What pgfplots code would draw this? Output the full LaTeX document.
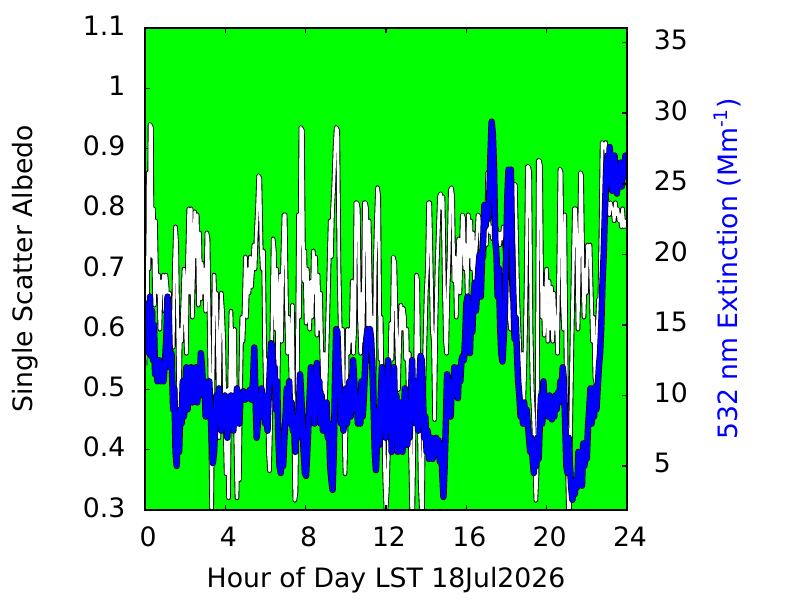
\documentclass[border=0pt]{standalone}
\usepackage{fontspec}
\setmainfont{DejaVu Sans}
\usepackage{pgfplots}
\usepackage{pgfplotstable}
\pgfplotsset{compat=1.18}
\definecolor{bggreen}{RGB}{0,255,0}
\definecolor{extblue}{RGB}{0,0,255}
\pgfplotstableread{
h a
0.00 0.54
0.04 0.62
0.08 0.72
0.12 0.60
0.16 0.86
0.20 0.70
0.25 0.94
0.32 0.935
0.36 0.72
0.42 0.80
0.47 0.64
0.52 0.78
0.57 0.70
0.62 0.66
0.68 0.69
0.74 0.60
0.80 0.68
0.86 0.66
0.92 0.69
0.98 0.63
1.04 0.69
1.10 0.67
1.16 0.60
1.22 0.66
1.28 0.55
1.34 0.63
1.40 0.57
1.46 0.70
1.52 0.77
1.58 0.74
1.64 0.58
1.70 0.44
1.76 0.60
1.82 0.58
1.88 0.64
1.94 0.70
2.00 0.62
2.06 0.56
2.12 0.72
2.18 0.80
2.24 0.66
2.30 0.80
2.36 0.62
2.42 0.70
2.48 0.795
2.54 0.72
2.60 0.79
2.66 0.64
2.72 0.76
2.78 0.65
2.84 0.71
2.90 0.66
2.96 0.70
3.02 0.63
3.08 0.76
3.14 0.75
3.20 0.60
3.26 0.45
3.32 0.30
3.38 0.50
3.44 0.69
3.50 0.63
3.56 0.66
3.62 0.55
3.68 0.42
3.74 0.58
3.80 0.66
3.86 0.63
3.92 0.58
3.98 0.45
4.04 0.36
4.10 0.50
4.16 0.32
4.22 0.52
4.28 0.63
4.34 0.55
4.40 0.45
4.46 0.60
4.52 0.42
4.58 0.32
4.64 0.44
4.70 0.35
4.76 0.50
4.82 0.62
4.88 0.58
4.94 0.64
5.00 0.72
5.06 0.62
5.12 0.70
5.18 0.66
5.24 0.72
5.30 0.67
5.36 0.70
5.42 0.74
5.48 0.70
5.54 0.76
5.60 0.80
5.66 0.855
5.72 0.85
5.78 0.74
5.84 0.70
5.90 0.73
5.96 0.56
6.02 0.47
6.08 0.55
6.14 0.40
6.20 0.365
6.26 0.45
6.32 0.60
6.38 0.75
6.44 0.73
6.50 0.60
6.56 0.70
6.62 0.50
6.68 0.62
6.74 0.69
6.80 0.58
6.86 0.72
6.92 0.79
6.98 0.79
7.04 0.65
7.10 0.56
7.16 0.62
7.22 0.58
7.28 0.50
7.34 0.64
7.40 0.45
7.46 0.316
7.52 0.33
7.58 0.50
7.64 0.79
7.70 0.62
7.76 0.935
7.84 0.93
7.90 0.68
7.96 0.73
8.02 0.61
8.08 0.70
8.14 0.64
8.20 0.60
8.26 0.68
8.32 0.62
8.38 0.73
8.44 0.66
8.50 0.72
8.56 0.59
8.62 0.69
8.68 0.60
8.74 0.66
8.80 0.56
8.86 0.50
8.92 0.56
8.98 0.47
9.04 0.54
9.10 0.62
9.16 0.70
9.22 0.78
9.28 0.72
9.34 0.80
9.40 0.84
9.46 0.90
9.52 0.935
9.60 0.93
9.66 0.70
9.72 0.60
9.78 0.52
9.84 0.60
9.90 0.45
9.96 0.36
10.02 0.45
10.08 0.60
10.14 0.56
10.20 0.60
10.26 0.58
10.32 0.68
10.38 0.56
10.44 0.60
10.50 0.81
10.56 0.81
10.62 0.80
10.68 0.62
10.74 0.56
10.80 0.66
10.86 0.58
10.92 0.81
10.98 0.81
11.04 0.80
11.10 0.60
11.16 0.78
11.22 0.66
11.28 0.58
11.34 0.62
11.40 0.48
11.46 0.70
11.52 0.78
11.58 0.835
11.64 0.82
11.70 0.55
11.76 0.62
11.82 0.42
11.88 0.46
11.94 0.35
12.00 0.30
12.06 0.33
12.12 0.40
12.18 0.52
12.24 0.61
12.30 0.55
12.36 0.72
12.44 0.71
12.50 0.62
12.56 0.55
12.62 0.50
12.68 0.58
12.74 0.64
12.80 0.60
12.86 0.635
12.92 0.62
12.98 0.55
13.04 0.60
13.10 0.50
13.16 0.56
13.22 0.40
13.28 0.30
13.34 0.30
13.40 0.45
13.46 0.50
13.52 0.69
13.58 0.68
13.64 0.50
13.70 0.35
13.76 0.30
13.82 0.30
13.88 0.50
13.94 0.58
14.00 0.66
14.06 0.70
14.12 0.81
14.18 0.81
14.24 0.72
14.30 0.60
14.36 0.58
14.42 0.45
14.48 0.60
14.54 0.70
14.60 0.76
14.66 0.82
14.72 0.825
14.78 0.80
14.84 0.82
14.90 0.68
14.96 0.58
15.02 0.56
15.08 0.66
15.14 0.72
15.20 0.83
15.26 0.835
15.32 0.82
15.38 0.68
15.44 0.72
15.50 0.62
15.56 0.70
15.62 0.75
15.68 0.66
15.74 0.72
15.80 0.79
15.86 0.785
15.92 0.70
15.98 0.74
16.04 0.66
16.10 0.79
16.16 0.72
16.22 0.78
16.28 0.70
16.34 0.76
16.40 0.68
16.46 0.72
16.52 0.75
16.58 0.79
16.64 0.785
16.70 0.76
16.76 0.70
16.82 0.77
16.88 0.72
16.94 0.78
17.00 0.74
17.06 0.86
17.12 0.78
17.18 0.76
17.24 0.77
17.30 0.75
17.36 0.77
17.42 0.76
17.48 0.77
17.54 0.75
17.60 0.76
17.66 0.74
17.72 0.76
17.78 0.75
17.84 0.77
17.90 0.74
17.96 0.72
18.02 0.70
18.08 0.65
18.14 0.62
18.20 0.60
18.26 0.70
18.32 0.80
18.38 0.84
18.44 0.84
18.50 0.75
18.56 0.65
18.62 0.60
18.68 0.55
18.74 0.50
18.80 0.56
18.86 0.48
18.92 0.55
18.98 0.68
19.04 0.87
19.10 0.87
19.16 0.86
19.22 0.60
19.28 0.50
19.34 0.46
19.40 0.40
19.46 0.316
19.52 0.36
19.58 0.88
19.64 0.88
19.70 0.87
19.76 0.62
19.82 0.67
19.88 0.59
19.94 0.65
20.00 0.70
20.06 0.58
20.12 0.68
20.18 0.60
20.24 0.67
20.30 0.58
20.36 0.66
20.42 0.60
20.48 0.62
20.54 0.56
20.60 0.70
20.66 0.866
20.72 0.86
20.78 0.65
20.84 0.60
20.90 0.79
20.96 0.56
21.02 0.40
21.08 0.30
21.14 0.30
21.20 0.45
21.26 0.58
21.32 0.70
21.38 0.80
21.44 0.80
21.50 0.75
21.56 0.60
21.62 0.70
21.68 0.86
21.74 0.855
21.80 0.70
21.86 0.62
21.92 0.70
21.98 0.66
22.04 0.74
22.10 0.72
22.16 0.74
22.22 0.66
22.28 0.58
22.34 0.62
22.40 0.52
22.46 0.51
22.52 0.60
22.58 0.65
22.64 0.64
22.70 0.75
22.76 0.91
22.82 0.905
22.88 0.90
22.94 0.91
23.00 0.80
23.06 0.81
23.12 0.79
23.18 0.81
23.24 0.80
23.30 0.80
23.36 0.78
23.42 0.81
23.48 0.79
23.54 0.80
23.60 0.78
23.66 0.79
23.72 0.77
23.78 0.80
23.84 0.77
23.90 0.78
23.96 0.77
24.00 0.77
}\albedo
\pgfplotstableread{
h e
0.00 13
0.05 16.5
0.10 14
0.15 16
0.20 13
0.25 17
0.30 12.8
0.35 16
0.40 12.5
0.45 15
0.50 11.5
0.55 12.5
0.62 11
0.70 12.5
0.78 11
0.85 12
0.92 11
1.00 12.5
1.06 14
1.12 17
1.18 16
1.25 12
1.32 13
1.40 9
1.46 10.5
1.52 6
1.58 5
1.64 8
1.70 6
1.76 9
1.82 8
1.88 11
1.94 8.5
2.00 10
2.06 12
2.12 9
2.18 11
2.24 10
2.30 12
2.36 9.5
2.42 11
2.48 10
2.54 12
2.60 9.5
2.66 11.5
2.72 10
2.78 13
2.84 12
2.90 10
2.96 11
3.02 8.5
3.08 10
3.14 9
3.20 11
3.26 9
3.32 7
3.38 5.2
3.44 6
3.50 8
3.56 10
3.62 8
3.68 10.5
3.74 8.5
3.80 7.5
3.86 9.5
3.92 8.5
3.98 10
4.04 9
4.10 7
4.16 9.5
4.22 8
4.28 10
4.34 9
4.40 7.5
4.46 10
4.52 8
4.58 10.5
4.64 9
4.70 8
4.76 10
4.82 9.8
4.90 10.3
4.98 9.7
5.06 10.2
5.14 9.8
5.22 10.4
5.30 9.7
5.38 11
5.44 13.4
5.50 10
5.56 7
5.62 8
5.68 10
5.74 8.5
5.80 10.5
5.86 9
5.92 10
5.98 8
6.04 9.5
6.10 7.5
6.16 10
6.22 12
6.28 13.7
6.34 13.5
6.40 11
6.46 12
6.52 9
6.58 11
6.64 7
6.70 5
6.76 4.5
6.82 6
6.88 5
6.94 7
7.00 8.5
7.06 10.5
7.12 9
7.18 11
7.24 8
7.30 9.5
7.36 7.5
7.42 8.5
7.48 6
7.54 8
7.60 7
7.66 9
7.72 11.5
7.78 10
7.84 8
7.90 6
7.96 4.5
8.02 4.3
8.08 6
8.14 8
8.20 10
8.26 12
8.32 9
8.38 11
8.44 8
8.50 10.5
8.56 12.3
8.62 9
8.68 11
8.74 8
8.80 10
8.86 7.5
8.92 9
8.98 8
9.04 9.5
9.10 7
9.16 8
9.22 5
9.28 4
9.34 3.3
9.40 6
9.46 11
9.52 14.7
9.58 14.5
9.64 12
9.70 10.5
9.76 8
9.82 10
9.88 7.5
9.94 9
10.00 10.5
10.06 8
10.12 9.5
10.18 11
10.24 8.5
10.30 10.5
10.36 12.5
10.42 11
10.48 9
10.54 10
10.60 8
10.66 9.5
10.72 8
10.78 11
10.84 8.5
10.90 10
10.96 12
11.02 14
11.08 14.7
11.14 13.5
11.20 14.7
11.26 14
11.32 12
11.38 9.4
11.44 6
11.50 4.7
11.56 7
11.62 9
11.68 6.5
11.74 10
11.80 12
11.86 8
11.92 11
11.98 7
12.04 9.5
12.10 12.5
12.16 8
12.22 11
12.28 6
12.34 9
12.40 12
12.46 8
12.52 10
12.58 6
12.64 8.5
12.70 7
12.76 9.5
12.82 6
12.88 8
12.94 10.5
13.00 8
13.06 6.5
13.12 9
13.18 7
13.24 10
13.30 12.5
13.36 9
13.42 11
13.48 8
13.54 10
13.60 7.5
13.66 11
13.72 12.8
13.78 12.5
13.84 10
13.90 7
13.96 8.5
14.02 6
14.08 7.5
14.14 5.5
14.20 6.5
14.26 7
14.32 5.5
14.38 6.8
14.44 5.8
14.50 7
14.56 6
14.62 6.8
14.68 5.3
14.74 6.5
14.80 4.5
14.86 2.8
14.92 5
14.98 8
15.04 11.5
15.10 9
15.16 10.5
15.22 8.5
15.28 11
15.34 10
15.40 12
15.46 10.5
15.52 11.5
15.58 9.8
15.64 12
15.70 11
15.76 12.5
15.82 12.8
15.88 12.5
15.94 14
16.00 16.5
16.06 17
16.12 15
16.18 13
16.24 16
16.30 14.5
16.36 17
16.42 18
16.48 16
16.54 17.5
16.60 19
16.66 20
16.72 17
16.78 19.5
16.84 21
16.90 23.5
16.96 22
17.02 23
17.08 22.5
17.14 24
17.20 27
17.26 29.4
17.32 28.5
17.38 26
17.44 21
17.50 20
17.56 17
17.62 19
17.68 15
17.74 13
17.80 12.4
17.86 14
17.92 16
17.98 20
18.04 24
18.10 26
18.16 25.5
18.22 26
18.28 20
18.34 17
18.40 14
18.46 15.5
18.52 13
18.58 11
18.64 10
18.70 8.5
18.76 9.5
18.82 8
18.88 9.5
18.94 8
19.00 9
19.06 8
19.12 7
19.18 6
19.24 7
19.30 5.5
19.36 4.5
19.42 6
19.48 5
19.54 7
19.60 5.5
19.66 8
19.72 10
19.78 8
19.84 11
19.90 9
19.96 10
20.02 9
20.08 8.5
20.14 10
20.20 9.5
20.26 8.3
20.32 9.5
20.38 8.5
20.44 10
20.50 9
20.56 10.2
20.62 9.5
20.68 11
20.74 10.5
20.80 12
20.86 11
20.92 8
20.98 5
21.04 4.5
21.10 7
21.16 5
21.22 3.5
21.28 2.6
21.34 3.5
21.40 3
21.46 4
21.52 3.5
21.58 6
21.64 4.5
21.70 5.5
21.76 3.6
21.82 6.6
21.88 5
21.94 6
22.00 5.5
22.06 7.8
22.12 9
22.18 10.5
22.24 8
22.30 9.5
22.36 8.5
22.42 10.6
22.48 9
22.54 10.5
22.60 12
22.66 13
22.72 15
22.78 18
22.84 20
22.90 23
22.96 26
23.02 27
23.08 25
23.14 27.6
23.20 26
23.26 24.5
23.32 26.5
23.38 27
23.44 25
23.50 24.3
23.56 26
23.62 25
23.68 26.5
23.74 24.8
23.80 26
23.86 25.5
23.92 27
24.00 26.5
}\ext
\begin{document}
\begin{tikzpicture}
\path[use as bounding box] (0,0) rectangle (600pt,450pt);
\pgfplotsset{
  common/.style={
    at={(108.75pt,67.5pt)}, anchor=south west,
    scale only axis, width=361.5pt, height=361.5pt,
    xmin=0, xmax=24, xtick={0,4,8,12,16,20,24},
    tick align=inside, major tick length=3.75pt,
    every tick/.style={black, line width=1.1pt},
    axis line style={line width=1.9pt},
    tick label style={font=\fontsize{20}{24}\selectfont, inner sep=0pt},
    label style={font=\fontsize{20}{24}\selectfont},
  }
}
\begin{axis}[common,
  ymin=0.3, ymax=1.1,
  ytick={0.3,0.4,0.5,0.6,0.7,0.8,0.9,1.0,1.1},
  yticklabels={0.3,0.4,0.5,0.6,0.7,0.8,0.9,1,1.1},
  xticklabels={0,4,8,12,16,20,24},
  ytick pos=left, xtick pos=both,
  axis background/.style={fill=bggreen},
  yticklabel style={anchor=east, xshift=-14.5pt, yshift=2pt},
  xticklabel style={anchor=north, yshift=-12.5pt, xshift=2.25pt},
  xlabel={Hour of Day LST 18Jul2026},
  ylabel={Single Scatter Albedo},
  xlabel style={at={(axis description cs:0.5,-0.16)}, anchor=base},
  ylabel style={at={(axis description cs:-0.249,0.5)}, anchor=center},
]
\addplot[black, line width=3.4pt, line join=round] table[x=h,y=a]{\albedo};
\addplot[white, line width=2.1pt, line join=round] table[x=h,y=a]{\albedo};
\end{axis}
\begin{axis}[common,
  ymin=1.88, ymax=36.04,
  ytick={5,10,15,20,25,30,35},
  yticklabels={5,10,15,20,25,30,35},
  xticklabels={},
  ytick pos=right, xtick pos=both,
  axis on top,
  yticklabel style={anchor=west, xshift=20pt, yshift=2pt},
  ylabel={532 nm Extinction (Mm\textsuperscript{-1})},
  ylabel style={at={(axis description cs:1.2075,0.5)}, anchor=center, rotate=0, color=extblue},
]
\addplot[black, line width=4.8pt, line join=round] table[x=h,y=e]{\ext};
\addplot[extblue, line width=3.8pt, line join=round] table[x=h,y=e]{\ext};
\end{axis}
\end{tikzpicture}
\end{document}
